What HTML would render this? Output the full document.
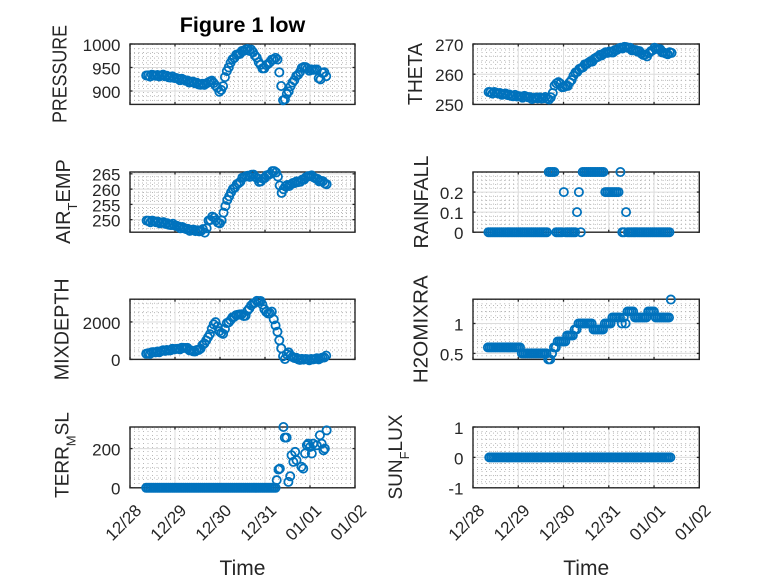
<!DOCTYPE html>
<html><head><meta charset="utf-8"><style>
html,body{margin:0;padding:0;background:#fff;}
svg{display:block;font-family:"Liberation Sans",Arial,sans-serif;}
.t{font-size:17px;fill:#262626;text-anchor:end;}
.yl{font-size:20.5px;fill:#262626;text-anchor:middle;}
.xl{font-size:21px;fill:#262626;text-anchor:middle;}
</style></head><body>
<svg width="778" height="583" viewBox="0 0 778 583" xmlns="http://www.w3.org/2000/svg">
<rect width="778" height="583" fill="#fff"/>
<g id="g"></g>
<g id="d" fill="none" stroke="#0072BD" stroke-width="1.8"></g>

<text x="242.5" y="32" font-size="21.5" font-weight="bold" fill="#000" text-anchor="middle">Figure 1 low</text>

<!-- y labels -->
<text class="yl" transform="translate(66.5,74) rotate(-90)" textLength="98" lengthAdjust="spacingAndGlyphs">PRESSURE</text>
<text class="yl" transform="translate(422,74) rotate(-90)" textLength="62" lengthAdjust="spacingAndGlyphs">THETA</text>
<text class="yl" style="font-size:20px" transform="translate(70,201.5) rotate(-90)">AIR<tspan font-size="13" dy="7">T</tspan><tspan dy="-7">EMP</tspan></text>
<text class="yl" transform="translate(428,202) rotate(-90)" textLength="93" lengthAdjust="spacingAndGlyphs">RAINFALL</text>
<text class="yl" transform="translate(68.5,329.3) rotate(-90)" textLength="102" lengthAdjust="spacingAndGlyphs">MIXDEPTH</text>
<text class="yl" transform="translate(427.5,329.3) rotate(-90)" textLength="108" lengthAdjust="spacingAndGlyphs">H2OMIXRA</text>
<text class="yl" style="font-size:19px" transform="translate(68.5,455) rotate(-90)">TERR<tspan font-size="13" dy="7">M</tspan><tspan dy="-7">SL</tspan></text>
<text class="yl" style="font-size:19px" transform="translate(402,457) rotate(-90)">SUN<tspan font-size="13" dy="7">F</tspan><tspan dy="-7">LUX</tspan></text>

<!-- y tick labels -->
<text class="t" x="120.5" y="51">1000</text>
<text class="t" x="120.5" y="74.5">950</text>
<text class="t" x="120.5" y="98">900</text>

<text class="t" x="463.5" y="51">270</text>
<text class="t" x="463.5" y="81">260</text>
<text class="t" x="463.5" y="111">250</text>

<text class="t" x="120.5" y="180.5">265</text>
<text class="t" x="120.5" y="196">260</text>
<text class="t" x="120.5" y="211.3">255</text>
<text class="t" x="120.5" y="226.6">250</text>

<text class="t" x="463.5" y="199">0.2</text>
<text class="t" x="463.5" y="219">0.1</text>
<text class="t" x="463.5" y="239">0</text>

<text class="t" x="120.5" y="328.8">2000</text>
<text class="t" x="120.5" y="366">0</text>

<text class="t" x="463.5" y="330.4">1</text>
<text class="t" x="463.5" y="360.3">0.5</text>

<text class="t" x="120.5" y="455.5">200</text>
<text class="t" x="120.5" y="494.6">0</text>

<text class="t" x="463.5" y="434">1</text>
<text class="t" x="463.5" y="464.3">0</text>
<text class="t" x="463.5" y="494.6">-1</text>

<!-- x tick labels -->
<text class="t" transform="translate(142.5,511.5) rotate(-45)">12/28</text>
<text class="t" transform="translate(187.5,511.5) rotate(-45)">12/29</text>
<text class="t" transform="translate(232.5,511.5) rotate(-45)">12/30</text>
<text class="t" transform="translate(277.5,511.5) rotate(-45)">12/31</text>
<text class="t" transform="translate(322.5,511.5) rotate(-45)">01/01</text>
<text class="t" transform="translate(367.5,511.5) rotate(-45)">01/02</text>

<text class="t" transform="translate(485.5,511.5) rotate(-45)">12/28</text>
<text class="t" transform="translate(530.8,511.5) rotate(-45)">12/29</text>
<text class="t" transform="translate(576,511.5) rotate(-45)">12/30</text>
<text class="t" transform="translate(621.3,511.5) rotate(-45)">12/31</text>
<text class="t" transform="translate(666.5,511.5) rotate(-45)">01/01</text>
<text class="t" transform="translate(711.8,511.5) rotate(-45)">01/02</text>

<text class="xl" x="242.5" y="575">Time</text>
<text class="xl" x="586.2" y="575">Time</text>
</svg>
<script>
(function(){
const NS="http://www.w3.org/2000/svg";
const g=document.getElementById('g'), d=document.getElementById('d');
function el(p,tag,a){const e=document.createElementNS(NS,tag);for(const k in a)e.setAttribute(k,a[k]);p.appendChild(e);return e;}
function line(x1,y1,x2,y2,st,w,da){const a={x1:x1,y1:y1,x2:x2,y2:y2,stroke:st,'stroke-width':w};if(da)a['stroke-dasharray']=da;el(g,'line',a);}
const cols=[[130,355],[473,699.3]];
const rows=[[44,104.4],[172,232.2],[299.2,359.4],[427,487.8]];
const DT=1/24;
function lin(c,jit){const o=[];const tEnd=c[c.length-1][0];let k=0;for(let t=c[0][0];t<=tEnd+1e-9;t+=DT,k++){let i=0;while(i<c.length-2&&t>c[i+1][0])i++;const a=c[i],b=c[i+1];let f=(t-a[0])/(b[0]-a[0]);f=Math.max(0,Math.min(1,f));const j=jit?jit*(Math.sin(k*2.37)+0.6*Math.sin(k*5.11)):0;o.push([t,a[1]+(b[1]-a[1])*f+j]);}return o;}
function steps(t0,t1,f){const o=[];for(let t=t0;t<=t1+1e-9;t+=DT)o.push([t,f(t)]);return o;}

const pres=lin([[0.36,933],[0.74,933],[1.04,927],[1.33,920],[1.63,913],[1.70,915],[1.78,923],[1.85,918],[2.0,899],[2.06,905],[2.11,930],[2.22,959],[2.37,977],[2.59,989],[2.70,987],[2.89,959],[2.95,945],[3.11,963],[3.26,971],[3.30,960],[3.33,931],[3.41,874],[3.48,891],[3.56,909],[3.70,931],[3.85,952],[4.0,945],[4.15,945],[4.22,920],[4.30,945],[4.37,927]],1.6);
const theta=lin([[0.345,254.1],[0.6,253.6],[0.97,252.7],[1.19,252.5],[1.34,252],[1.56,252.2],[1.66,252],[1.69,251.2],[1.75,253.6],[1.82,256.7],[1.89,257.4],[2.0,255.6],[2.11,256.3],[2.22,259.6],[2.40,262.3],[2.66,264.8],[2.88,266.9],[3.10,267.5],[3.29,268.9],[3.40,268.9],[3.54,268.1],[3.69,267.3],[3.84,265.9],[3.99,268.7],[4.13,268.1],[4.28,266.5],[4.39,267.3]],0.25);
const air=lin([[0.37,249.7],[0.67,249.1],[0.96,248.3],[1.26,246.9],[1.48,246.3],[1.63,246.6],[1.68,245.4],[1.74,249.7],[1.85,251],[1.96,248.8],[2.04,249.7],[2.11,254.1],[2.22,258.6],[2.37,261.3],[2.52,263.9],[2.74,264.7],[2.89,262.4],[3.11,265.2],[3.22,266.1],[3.30,263.6],[3.37,258.6],[3.44,260.8],[3.63,261.9],[3.85,263],[4.0,264.7],[4.15,263.2],[4.30,262.4],[4.37,261.3]],0.25);
const rain=steps(0.34,4.38,function(t){
 if(Math.abs(t-2.0)<0.021)return 0.2; if(Math.abs(t-2.29)<0.021)return 0.1; if(Math.abs(t-2.35)<0.021)return 0.2;
 if(Math.abs(t-3.38)<0.021)return 0.1; if(Math.abs(t-3.25)<0.021)return 0.3;
 return t<1.67?0:t<1.81?0.3:t<2.40?0:t<2.90?0.3:t<3.22?0.2:0;});
const mix=lin([[0.36,304],[0.67,429],[0.96,536],[1.26,625],[1.41,393],[1.56,571],[1.70,1018],[1.81,1554],[1.89,2054],[1.96,1643],[2.06,1286],[2.15,1911],[2.30,2268],[2.44,2446],[2.56,2268],[2.63,2714],[2.74,2982],[2.89,3196],[2.96,2804],[3.04,2446],[3.15,2536],[3.22,1911],[3.30,1286],[3.39,214],[3.44,0],[3.52,446],[3.59,125],[3.78,0],[4.07,0],[4.30,89],[4.40,214]],30);
const h2o=steps(0.33,4.375,function(t){const k=Math.round(t*24)%2;
 return t<1.04?0.6:t<1.64?0.5:t<1.71?0.4:t<1.76?0.5:t<1.84?0.6:t<2.08?0.7:t<2.22?0.8:t<2.30?0.9:t<2.63?1.0:t<2.89?0.9:t<3.05?1.0:t<3.25?1.1:t<3.40?(k?1.0:1.1):t<3.54?1.2:t<3.62?(k?1.2:1.1):t<3.84?1.1:t<4.02?1.2:t<4.36?1.1:1.4;});
const terr=steps(0.36,3.24,function(){return 0;}).concat([[3.26,39],[3.30,93],[3.33,98],[3.41,310],[3.44,256],[3.48,256],[3.52,30],[3.56,59],[3.59,166],[3.63,132],[3.67,183],[3.70,141],[3.81,107],[3.85,98],[3.89,175],[3.93,217],[3.96,225],[4.0,208],[4.04,175],[4.07,225],[4.15,217],[4.22,268],[4.26,225],[4.30,191],[4.33,200],[4.37,293]]);
const sun=steps(0.36,4.40,function(){return 0;});

const panels=[
 {c:0,r:0,yl:[871.5,1000],mj:[900,950,1000],mn:10,data:pres},
 {c:1,r:0,yl:[250,270],mj:[250,260,270],mn:2,data:theta},
 {c:0,r:1,yl:[245.9,265.6],mj:[250,255,260,265],mn:1,data:air},
 {c:1,r:1,yl:[0,0.3],mj:[0,0.1,0.2],mn:0.02,data:rain},
 {c:0,r:2,yl:[0,3214],mj:[0,2000],mn:500,data:mix},
 {c:1,r:2,yl:[0.4,1.406],mj:[0.5,1],mn:0.1,data:h2o},
 {c:0,r:3,yl:[0,310],mj:[0,200],mn:50,data:terr},
 {c:1,r:3,yl:[-1,1],mj:[-1,0,1],mn:0.2,data:sun}
];
const MIN='#b8b8b8', MAJ='#dcdcdc', AX='#262626';
panels.forEach(function(p){
 const x0=cols[p.c][0],x1=cols[p.c][1],y0=rows[p.r][0],y1=rows[p.r][1];
 const fx=function(t){return x0+t*(x1-x0)/5;};
 const fy=function(v){return y1-(v-p.yl[0])/(p.yl[1]-p.yl[0])*(y1-y0);};
 for(let k=1;k<50;k++){if(k%10===0)continue;const x=fx(k/10);line(x,y0,x,y1,MIN,1,'1 3');}
 const n0=Math.ceil(p.yl[0]/p.mn-1e-6),n1=Math.floor(p.yl[1]/p.mn+1e-6);
 for(let n=n0;n<=n1;n++){const v=n*p.mn,y=fy(v);if(y<y0+0.8||y>y1-0.8)continue;if(p.mj.some(function(m){return Math.abs(m-v)<p.mn/5;}))continue;line(x0,y,x1,y,MIN,1,'1 3');}
 for(let k=1;k<5;k++){const x=fx(k);line(x,y0,x,y1,MAJ,1);}
 p.mj.forEach(function(m){const y=fy(m);if(y>y0+0.8&&y<y1-0.8)line(x0,y,x1,y,MAJ,1);});
 el(g,'rect',{x:x0,y:y0,width:x1-x0,height:y1-y0,fill:'none',stroke:AX,'stroke-width':1.4});
 for(let k=0;k<=5;k++){const x=fx(k);line(x,y1,x,y1-2.5,AX,1.3);line(x,y0,x,y0+2.5,AX,1.3);}
 p.mj.forEach(function(m){const y=fy(m);line(x0,y,x0+2.5,y,AX,1.3);line(x1,y,x1-2.5,y,AX,1.3);});
 p.data.forEach(function(pt){el(d,'circle',{cx:fx(pt[0]).toFixed(2),cy:fy(pt[1]).toFixed(2),r:4.1});});
});
})();
</script>
</body></html>
